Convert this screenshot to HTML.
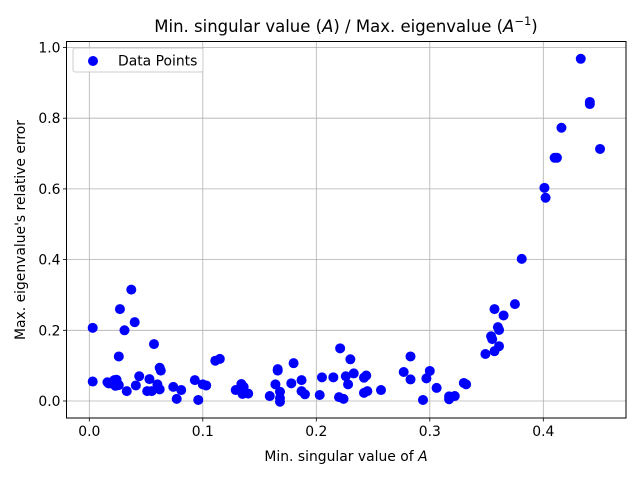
<!DOCTYPE html>
<html><head><meta charset="utf-8"><style>
body{margin:0;background:#fff;}
svg{font-family:"DejaVu Sans","Liberation Sans",sans-serif;}
</style></head><body>
<svg id="chart" width="640" height="480" viewBox="0 0 640 480">
<rect x="0" y="0" width="640" height="480" fill="#fff"/>
<g id="grid"></g>
<g id="points"></g>
<rect x="66.5" y="41.5" width="559.5" height="376.5" fill="none" stroke="#000" stroke-width="1"/>
<g id="ticks"></g>
<text x="346" y="32" text-anchor="middle" font-size="16.5">Min. singular value (<tspan font-style="italic">A</tspan>) / Max. eigenvalue (<tspan font-style="italic">A</tspan><tspan font-size="11.5" dy="-7">−1</tspan><tspan dy="7">)</tspan></text>
<text x="346" y="461" text-anchor="middle" font-size="13.9">Min. singular value of <tspan font-style="italic">A</tspan></text>
<text x="0" y="0" transform="translate(25,230) rotate(-90)" text-anchor="middle" font-size="13.9">Max. eigenvalue's relative error</text>
<g>
<rect x="73" y="48" width="130" height="24" rx="2" fill="#fff" fill-opacity="0.8" stroke="#ccc"/>
<circle cx="93" cy="61" r="5" fill="#0000ff"/>
<text x="118" y="65.5" font-size="13.9">Data Points</text>
</g>
</svg>
<script>
const xs=[0.003,0.003,0.017,0.019,0.021,0.023,0.024,0.026,0.027,0.037,0.031,0.026,0.040,0.057,0.062,0.063,0.016,0.022,0.023,0.033,0.044,0.041,0.053,0.051,0.055,0.060,0.062,0.074,0.081,0.077,0.093,0.096,0.100,0.103,0.111,0.115,0.129,0.134,0.136,0.135,0.140,0.159,0.164,0.166,0.166,0.168,0.168,0.168,0.180,0.178,0.187,0.187,0.190,0.203,0.205,0.215,0.221,0.220,0.224,0.226,0.230,0.228,0.233,0.242,0.244,0.242,0.245,0.257,0.277,0.283,0.283,0.300,0.297,0.294,0.306,0.317,0.322,0.317,0.330,0.332,0.349,0.354,0.355,0.357,0.361,0.360,0.361,0.357,0.365,0.375,0.381,0.401,0.402,0.410,0.412,0.416,0.433,0.441,0.441,0.450];
const ys=[0.055,0.207,0.050,0.050,0.055,0.045,0.060,0.045,0.260,0.315,0.200,0.126,0.223,0.161,0.094,0.086,0.053,0.059,0.043,0.028,0.070,0.044,0.062,0.028,0.028,0.047,0.033,0.040,0.031,0.006,0.059,0.003,0.047,0.044,0.114,0.119,0.031,0.048,0.040,0.020,0.021,0.014,0.047,0.086,0.090,0.026,0.008,-0.002,0.107,0.050,0.059,0.028,0.019,0.017,0.067,0.067,0.149,0.011,0.006,0.070,0.118,0.047,0.078,0.066,0.072,0.023,0.028,0.031,0.082,0.126,0.061,0.085,0.064,0.003,0.037,0.013,0.014,0.005,0.051,0.047,0.133,0.183,0.175,0.141,0.155,0.209,0.201,0.260,0.242,0.274,0.402,0.603,0.575,0.688,0.688,0.773,0.968,0.846,0.840,0.713];
const xTicks=[0.0,0.1,0.2,0.3,0.4];
const yTicks=[0.0,0.2,0.4,0.6,0.8,1.0];
const xLabels=["0.0","0.1","0.2","0.3","0.4"];
const yLabels=["0.0","0.2","0.4","0.6","0.8","1.0"];
const NS="http://www.w3.org/2000/svg";
const X=v=>89.3+v*1135;
const Y=v=>401-v*353.5;
const L=66.5,R=626,T=41.5,B=418;
function mk(tag,attrs,parent){const e=document.createElementNS(NS,tag);for(const k in attrs)e.setAttribute(k,attrs[k]);parent.appendChild(e);return e;}
const grid=document.getElementById('grid'),ticks=document.getElementById('ticks'),pts=document.getElementById('points');
xTicks.forEach((t,i)=>{const x=X(t);
 const g=mk('line',{x1:x,x2:x,y1:T,y2:B,stroke:'#b0b0b0','stroke-width':0.8},grid);
 
 
 const tk=mk('line',{x1:x,x2:x,y1:B,y2:B+3.5,stroke:'#000','stroke-width':0.8},ticks);
 
 
 const tx=mk('text',{x:x,y:B+18,'text-anchor':'middle','font-size':13.9},ticks);tx.textContent=xLabels[i];
 
 
});
yTicks.forEach((t,i)=>{const y=Y(t);
 const g=mk('line',{x1:L,x2:R,y1:y,y2:y,stroke:'#b0b0b0','stroke-width':0.8},grid);
 
 
 const tk=mk('line',{x1:L-3.5,x2:L,y1:y,y2:y,stroke:'#000','stroke-width':0.8},ticks);
 
 
 const tx=mk('text',{x:L-6,y:y+5,'text-anchor':'end','font-size':13.9},ticks);tx.textContent=yLabels[i];
 
 
});
xs.forEach((v,i)=>{const c=mk('circle',{cx:X(v),cy:Y(ys[i]),r:5,fill:'#0000ff'},pts);
 
 
});
</script>
</body></html>
